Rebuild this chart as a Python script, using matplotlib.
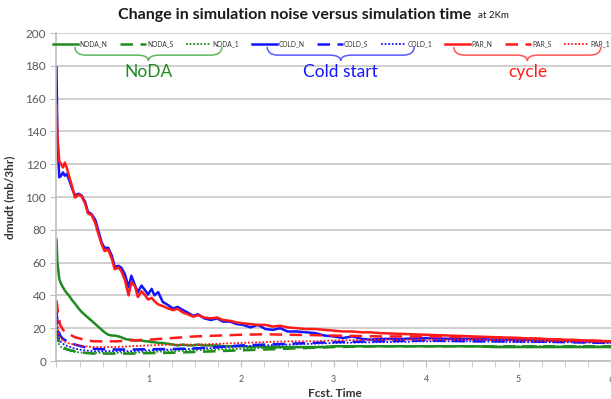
import matplotlib
matplotlib.use("Agg")
import matplotlib.pyplot as plt
from matplotlib.path import Path
from matplotlib.patches import PathPatch

plt.rcParams['font.family'] = ['Lato', 'DejaVu Sans']

# forecast time (days) for the noisy "N" runs
t_fine = [0.0, 0.01, 0.03, 0.05, 0.07, 0.09, 0.11, 0.14, 0.17, 0.2,
          0.24, 0.27, 0.31, 0.34, 0.38, 0.42, 0.45, 0.49, 0.52, 0.56,
          0.6, 0.63, 0.67, 0.7, 0.74, 0.78, 0.81, 0.85, 0.88, 0.92,
          0.96, 0.99, 1.03, 1.06, 1.1, 1.15, 1.21, 1.26, 1.31, 1.37,
          1.42, 1.48, 1.53, 1.6, 1.67, 1.74, 1.8, 1.88, 1.95, 2.02,
          2.1, 2.18, 2.26, 2.34, 2.42, 2.5, 2.6, 2.7, 2.8, 2.9,
          3.0, 3.1, 3.2, 3.3, 3.4, 3.5, 3.75, 4.0, 4.25, 4.5,
          4.75, 5.0, 5.25, 5.5, 5.75, 6.0]

noda_n = [74, 60, 50, 47, 45, 43, 41.5, 39.5, 37, 35,
          32, 30, 28, 26.5, 24.5, 22.5, 21, 19, 17.5, 16,
          15.5, 15.5, 15, 14.5, 13.5, 13, 13, 12.5, 12.5, 12.5,
          12, 12, 11.5, 11.5, 11, 11, 10.5, 10, 9.5, 10,
          9.5, 9.5, 10, 9.5, 9.5, 9.5, 9, 9, 9, 9,
          8.5, 9, 8.5, 8.5, 8.5, 8.5, 8.5, 8.5, 8.5, 8.5,
          9, 9, 9, 9, 9, 9, 9, 9, 9, 9,
          8.5, 8.5, 8.5, 8.5, 8.5, 8.5]

cold_n = [179, 135, 112, 113, 115, 113, 114, 110, 105, 101,
          102, 101, 97, 91, 89.5, 86, 80, 72, 69, 69,
          64, 57.5, 58, 57, 53, 45, 52, 46, 42, 46,
          43, 40.5, 44, 40, 42, 36, 34, 32, 33, 31,
          29.5, 27.5, 28.5, 26, 25, 26, 24, 24, 22.5, 22,
          20.5, 22, 19.5, 19, 20, 18, 18, 17.5, 17, 15.5,
          15, 14, 15, 13.5, 13, 13.5, 13.5, 14, 13.5, 13.5,
          13, 13, 12.5, 12.5, 12, 11.5]

par_n = [156, 137, 122, 120, 118, 121, 118, 112, 106, 99.6,
         101.5, 100.5, 96, 90, 89, 84, 78, 71, 67, 68,
         62, 56, 57, 55, 49.5, 40, 48, 45.5, 39, 42.5,
         40, 37.5, 38.5, 36.5, 34.5, 33.5, 32, 31, 31.8, 29.5,
         28.5, 27, 28, 26.5, 26, 26.5, 25, 24.5, 23.5, 23,
         22.5, 22, 22, 21, 21.5, 20.5, 20, 19.5, 19.5, 19,
         18.5, 18, 18, 17.5, 17.5, 17, 16.5, 16, 15.5, 15,
         14.5, 14, 13.5, 13, 12.5, 12]

# forecast time for the smoother "S" and "1" runs
t_coarse = [0.0, 0.02, 0.04, 0.07, 0.1, 0.15, 0.2, 0.3, 0.4, 0.5,
            0.65, 0.8, 1.0, 1.25, 1.5, 1.75, 2.0, 2.25, 2.5, 2.75,
            3.0, 3.5, 4.0, 4.5, 5.0, 5.5, 6.0]

noda_s = [19, 13, 10, 8.5, 7.5, 6.5, 6, 5, 4.5, 4.5,
          4.5, 4.5, 4.8, 5, 5.5, 6, 6.5, 7, 7.5, 8,
          8.5, 9, 9, 9, 9, 9, 9]
noda_1 = [15, 11, 9, 7.5, 7, 6, 5.5, 5, 5, 5,
          5, 5, 5.5, 6, 6.5, 7, 7.5, 8, 8, 8.5,
          9, 9, 9, 9, 9, 9, 9]
cold_s = [30, 19, 15.5, 13.5, 12.5, 11, 10, 8.5, 7.5, 7.2,
          7, 7, 7.2, 7.3, 7.7, 8.5, 9.5, 10, 10.5, 11,
          11.5, 12, 12.5, 12, 12, 11.5, 11]
cold_1 = [25, 15, 12, 10.5, 9.5, 8.5, 7.5, 6.5, 6, 6,
          6, 6, 6.5, 7, 7.5, 8, 9, 9.5, 10, 10.5,
          11, 11.5, 12, 12, 11.5, 11.5, 11]
par_s = [37, 28, 22, 19, 17.5, 16, 14.5, 13, 12, 12,
         12, 12.5, 13, 14, 15, 15.5, 16, 16.3, 16, 15.8,
         15.5, 15, 15, 14.5, 14, 13, 12]
par_1 = [28, 18, 14, 12.5, 11.5, 10.5, 10, 9, 8.5, 8.5,
         8.5, 9, 9.5, 10, 10, 10.5, 11, 11.5, 12, 12,
         12.5, 13, 13, 13, 12.5, 12, 11.5]

GREEN = '#1f8c1f'
BLUE = '#1414ff'
RED = '#ff1a1a'

fig = plt.figure(figsize=(6.11, 3.99), dpi=100)
ax = fig.add_axes([56.5 / 611, 1 - 361 / 399, 1 - 56.5 / 611, (361 - 33) / 399])

ax.plot(t_fine, noda_n, color=GREEN, lw=1.8, label='NODA_N')
ax.plot(t_coarse, noda_s, color=GREEN, lw=1.8, ls=(0, (5, 3)), label='NODA_S')
ax.plot(t_coarse, noda_1, color=GREEN, lw=1.3, ls=(0, (1, 1)), label='NODA_1')
ax.plot(t_fine, cold_n, color=BLUE, lw=1.8, label='COLD_N')
ax.plot(t_coarse, cold_s, color=BLUE, lw=1.8, ls=(0, (5, 3)), label='COLD_S')
ax.plot(t_coarse, cold_1, color=BLUE, lw=1.3, ls=(0, (1, 1)), label='COLD_1')
ax.plot(t_fine, par_n, color=RED, lw=1.8, label='PAR_N')
ax.plot(t_coarse, par_s, color=RED, lw=1.8, ls=(0, (5, 3)), label='PAR_S')
ax.plot(t_coarse, par_1, color=RED, lw=1.3, ls=(0, (1, 1)), label='PAR_1')

ax.set_xlim(0, 5.99)
ax.set_ylim(0, 200)
ax.set_yticks(range(0, 201, 20))
ax.set_xticks([1, 2, 3, 4, 5, 6])
ax.set_xticks([i * 0.25 for i in range(25)], minor=True)
ax.grid(axis='y', color='#c8c8c8', lw=1.2)
ax.set_axisbelow(True)
for s in ['top', 'right']:
    ax.spines[s].set_visible(False)
for s in ['left', 'bottom']:
    ax.spines[s].set_color('#bfbfbf')
    ax.spines[s].set_linewidth(1.2)
ax.tick_params(axis='y', labelsize=8.5, colors='#595959', length=4, color='#bfbfbf')
ax.tick_params(axis='x', which='both', labelsize=6.5, labelcolor='#595959',
               length=4, color='#bfbfbf', pad=6)

ax.set_ylabel('dmudt (mb/3hr)', fontsize=8.5, fontweight='bold', color='#333333')
ax.yaxis.set_label_coords(-41.5 / 554.5, 0.5)
ax.set_xlabel('Fcst. Time', fontsize=8.5, fontweight='bold', color='#333333')
ax.xaxis.set_label_coords((335 - 56.5) / 554.5, -27 / 328)

fig.text(118 / 611, 1 - 15 / 399, 'Change in simulation noise versus simulation time',
         fontsize=11.5, fontweight='bold', color='#1a1a1a', va='center', ha='left')
fig.text(478 / 611, 1 - 16 / 399, 'at 2Km', fontsize=7, color='#1a1a1a',
         va='center', ha='left')

leg = ax.legend(ncol=9, loc='center left', bbox_to_anchor=(-6 / 554.5, 0.968),
                frameon=False, fontsize=4.8, handlelength=3.8, handletextpad=0.2,
                columnspacing=1.9, borderaxespad=0)
for txt in leg.get_texts():
    txt.set_color('#333333')

# braces grouping the legend entries
groups = ['NoDA', 'Cold start', 'cycle']
brace_spans = [(0.2, 1.79), (2.28, 3.87), (4.3, 5.89)]
brace_colors = ['#5cb85c', '#5a5aff', '#ff5555']
text_colors = [GREEN, BLUE, RED]
ytop, ymid, ytip = 191.5, 186.5, 183
r = 0.12
for name, (x1, x2), bc, tc in zip(groups, brace_spans, brace_colors, text_colors):
    xc = (x1 + x2) / 2
    verts = [(x1, ytop), (x1, ymid), (x1 + r, ymid),
             (xc - r, ymid), (xc, ymid), (xc, ytip),
             (xc, ymid), (xc + r, ymid),
             (x2 - r, ymid), (x2, ymid), (x2, ytop)]
    codes = [Path.MOVETO, Path.CURVE3, Path.CURVE3,
             Path.LINETO, Path.CURVE3, Path.CURVE3,
             Path.CURVE3, Path.CURVE3,
             Path.LINETO, Path.CURVE3, Path.CURVE3]
    ax.add_patch(PathPatch(Path(verts, codes), fill=False, ec=bc, lw=1.1))
    ax.text(xc, 176.5, name, color=tc, fontsize=12.5, ha='center', va='center')

fig.savefig('out.png', dpi=100)
